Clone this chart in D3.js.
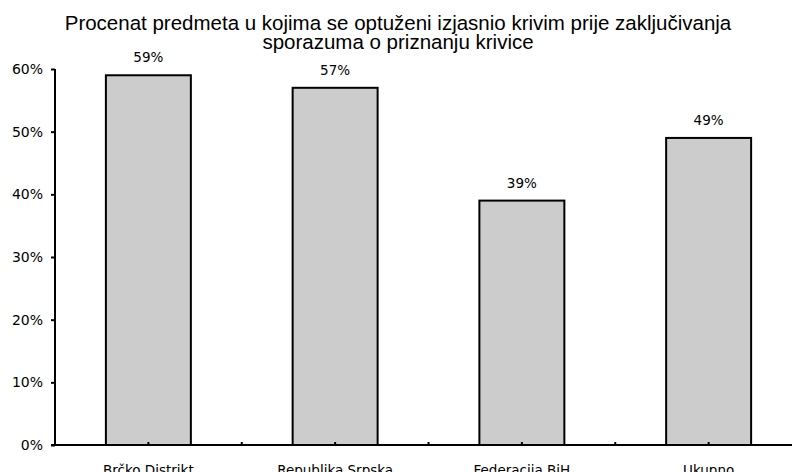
<!DOCTYPE html>
<html>
<head>
<meta charset="utf-8">
<script src="https://cdn.jsdelivr.net/npm/d3@7"></script>
<style>
  body { margin: 0; background: #fff; }
  svg { display: block; }
</style>
</head>
<body>
<div id="chart"></div>
<script>
// data
let categories = ["Brčko Distrikt", "Republika Srpska", "Federacija BiH", "Ukupno"];
let values = [59, 57, 39, 49];
let yTicks = [0, 10, 20, 30, 40, 50, 60];
let titleLines = [
    "Procenat predmeta u kojima se optuženi izjasnio krivim prije zaključivanja",
    "sporazuma o priznanju krivice"
];

let width = 792, height = 472;
let margin = {top: 69, left: 55, bottom: 27};
let plotRight = 802; // last band runs past the window edge

let svg = d3.select("#chart").append("svg")
    .attr("width", width)
    .attr("height", height);

let x = d3.scaleBand()
    .domain(categories)
    .range([margin.left, plotRight])
    .paddingInner(0.545)
    .paddingOuter(0.2725);

let y = d3.scaleLinear()
    .domain([0, 60])
    .range([height - margin.bottom, margin.top]);

// title
svg.append("text")
    .attr("x", 398)
    .attr("y", 30)
    .attr("text-anchor", "middle")
    .style("font-family", "'Liberation Sans', Arial, sans-serif")
    .style("font-size", "20.5px")
    .attr("fill", "#000")
    .selectAll("tspan")
    .data(titleLines)
    .join("tspan")
    .attr("x", 398)
    .attr("dy", (d, i) => i == 0 ? 0 : 18.5)
    .text(d => d);

// bars
svg.selectAll("rect.bar")
    .data(values)
    .join("rect")
    .attr("class", "bar")
    .attr("x", (d, i) => x(categories[i]))
    .attr("y", d => y(d))
    .attr("width", x.bandwidth())
    .attr("height", d => y(0) - y(d))
    .attr("fill", "#cccccc")
    .attr("stroke", "#000")
    .attr("stroke-width", 2);

// value labels
svg.selectAll("text.val")
    .data(values)
    .join("text")
    .attr("class", "val")
    .attr("x", (d, i) => x(categories[i]) + x.bandwidth() / 2)
    .attr("y", d => y(d) - 13)
    .attr("text-anchor", "middle")
    .style("font-family", "'DejaVu Sans', Verdana, sans-serif")
    .style("font-size", "13.5px")
    .attr("fill", "#000")
    .text(d => d + "%");

// y axis
let yAxis = svg.append("g")
    .attr("transform", `translate(${margin.left},0)`)
    .call(d3.axisLeft(y).tickValues(yTicks).tickSize(4).tickPadding(8).tickFormat(d => d + "%"));
yAxis.select(".domain").attr("stroke-width", 2).attr("d", `M0,${y(0)}V${y(60)}`);
yAxis.selectAll(".tick line").attr("stroke-width", 2);
yAxis.selectAll(".tick text")
    .style("font-family", "'DejaVu Sans', Verdana, sans-serif")
    .style("font-size", "14px")
    .attr("fill", "#000");

// x axis
let xAxis = svg.append("g")
    .attr("transform", `translate(0,${y(0)})`)
    .call(d3.axisBottom(x).tickSize(0).tickPadding(20));
xAxis.select(".domain").attr("stroke-width", 2).attr("d", `M${margin.left - 4},0H${plotRight}`);
xAxis.selectAll(".tick text")
    .style("font-family", "'DejaVu Sans', Verdana, sans-serif")
    .style("font-size", "13.5px")
    .attr("fill", "#000");

// small inner tick marks at band centres and band edges
let step = x.step();
let tickPos = categories.map((c, i) => margin.left + step * (i + 0.5))
    .concat(categories.slice(1).map((c, i) => margin.left + step * (i + 1)));
svg.selectAll("line.xtick")
    .data(tickPos)
    .join("line")
    .attr("class", "xtick")
    .attr("x1", d => d).attr("x2", d => d)
    .attr("y1", y(0)).attr("y2", y(0) - 3)
    .attr("stroke", "#000")
    .attr("stroke-width", 2);
</script>
</body>
</html>
